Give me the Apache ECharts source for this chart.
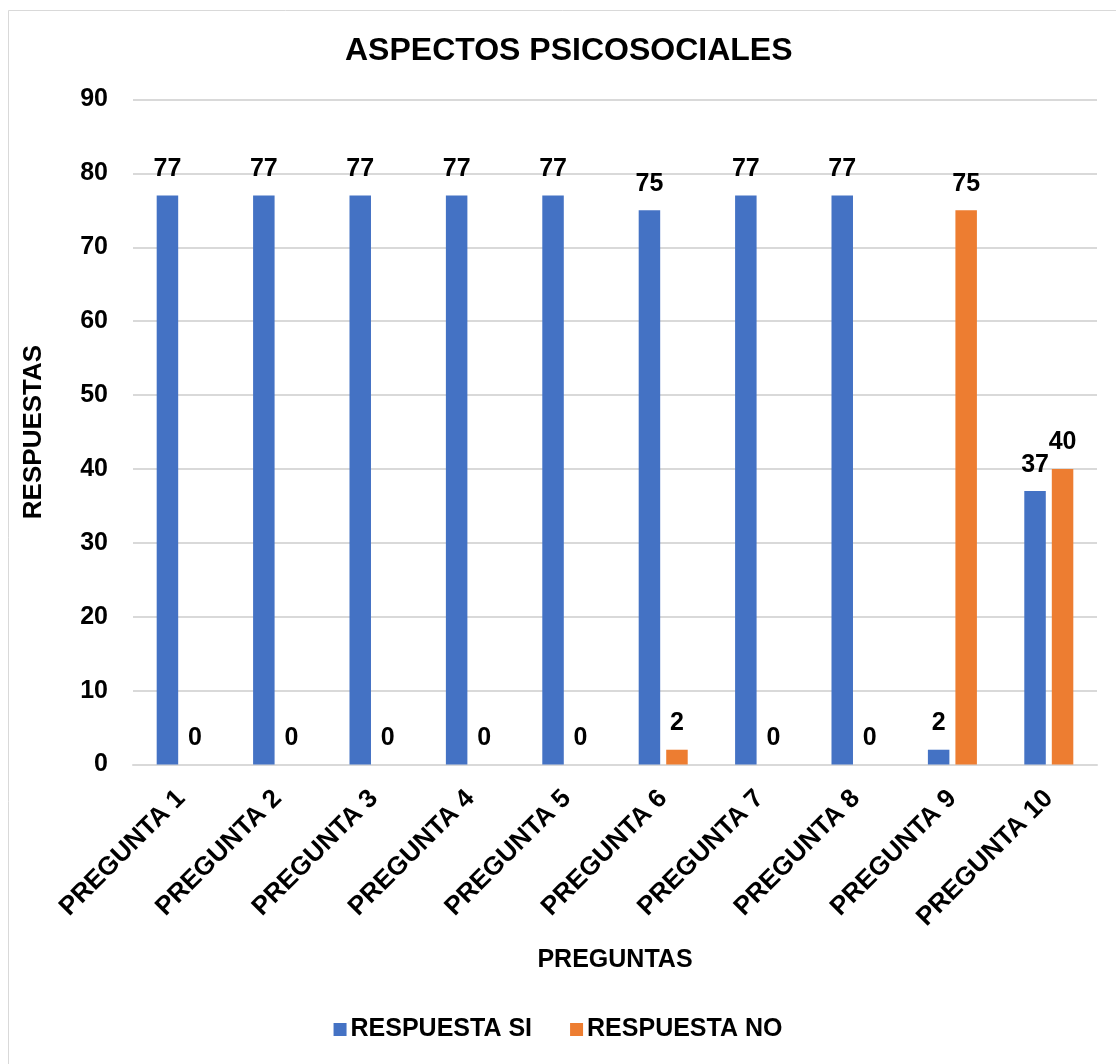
<!DOCTYPE html>
<html>
<head>
<meta charset="utf-8">
<script src="https://cdn.jsdelivr.net/npm/echarts@6/dist/echarts.min.js"></script>
<style>
  html, body { margin: 0; padding: 0; background: #fff; }
  #chart { width: 1116px; height: 1064px; }
</style>
</head>
<body>
<div id="chart"></div>
<script>
const categories = ['PREGUNTA 1', 'PREGUNTA 2', 'PREGUNTA 3', 'PREGUNTA 4', 'PREGUNTA 5',
                    'PREGUNTA 6', 'PREGUNTA 7', 'PREGUNTA 8', 'PREGUNTA 9', 'PREGUNTA 10'];
const respuestaSi = [77, 77, 77, 77, 77, 75, 77, 77, 2, 37];
const respuestaNo = [0, 0, 0, 0, 0, 2, 0, 0, 75, 40];
const yTicks = { min: 0, max: 90, interval: 10 };

const FONT = '"Liberation Sans", Arial, sans-serif';
const labelStyle = {
  show: true,
  position: 'top',
  distance: 14,
  fontFamily: FONT,
  fontWeight: 'bold',
  fontSize: 25,
  color: '#000'
};

const chart = echarts.init(document.getElementById('chart'));
chart.setOption({
  backgroundColor: '#fff',
  animation: false,
  graphic: [{
    type: 'rect',
    shape: { x: 8.5, y: 10.5, width: 1120, height: 1070 },
    style: { fill: 'none', stroke: '#d9d9d9', lineWidth: 1 },
    silent: true
  }],
  title: {
    text: 'ASPECTOS PSICOSOCIALES',
    left: 345,
    top: 35,
    padding: 0,
    textStyle: { fontFamily: FONT, fontWeight: 'bold', fontSize: 32, color: '#000' }
  },
  legend: {
    bottom: 17,
    left: 'center',
    itemWidth: 13,
    itemHeight: 13,
    itemGap: 38,
    icon: 'rect',
    textStyle: { fontFamily: FONT, fontWeight: 'bold', fontSize: 25, color: '#000', padding: [0, 0, 0, -1] },
    data: ['RESPUESTA SI', 'RESPUESTA NO']
  },
  grid: { left: 133, right: 19, top: 99.5, bottom: 299.5, containLabel: false },
  xAxis: {
    type: 'category',
    data: categories,
    name: 'PREGUNTAS',
    nameLocation: 'middle',
    nameGap: 183,
    nameTextStyle: { fontFamily: FONT, fontWeight: 'bold', fontSize: 25, color: '#000' },
    axisLine: { lineStyle: { color: '#d9d9d9', width: 2 } },
    axisTick: { show: false },
    axisLabel: {
      rotate: 45,
      margin: 30,
      fontFamily: FONT,
      fontWeight: 'bold',
      fontSize: 26,
      color: '#000'
    }
  },
  yAxis: {
    type: 'value',
    min: yTicks.min,
    max: yTicks.max,
    interval: yTicks.interval,
    name: 'RESPUESTAS',
    nameLocation: 'middle',
    nameGap: 86,
    nameTextStyle: { fontFamily: FONT, fontWeight: 'bold', fontSize: 26, color: '#000' },
    axisLine: { show: false },
    axisTick: { show: false },
    axisLabel: {
      margin: 25,
      fontFamily: FONT,
      fontWeight: 'bold',
      fontSize: 25,
      color: '#000'
    },
    splitLine: { lineStyle: { color: '#d9d9d9', width: 2 } }
  },
  series: [
    {
      name: 'RESPUESTA SI',
      type: 'bar',
      data: respuestaSi,
      barWidth: 21.5,
      barGap: '28%',
      itemStyle: { color: '#4472C4' },
      label: labelStyle
    },
    {
      name: 'RESPUESTA NO',
      type: 'bar',
      data: respuestaNo,
      barWidth: 21.5,
      barGap: '28%',
      itemStyle: { color: '#ED7D31' },
      label: labelStyle
    }
  ]
});
</script>
</body>
</html>
